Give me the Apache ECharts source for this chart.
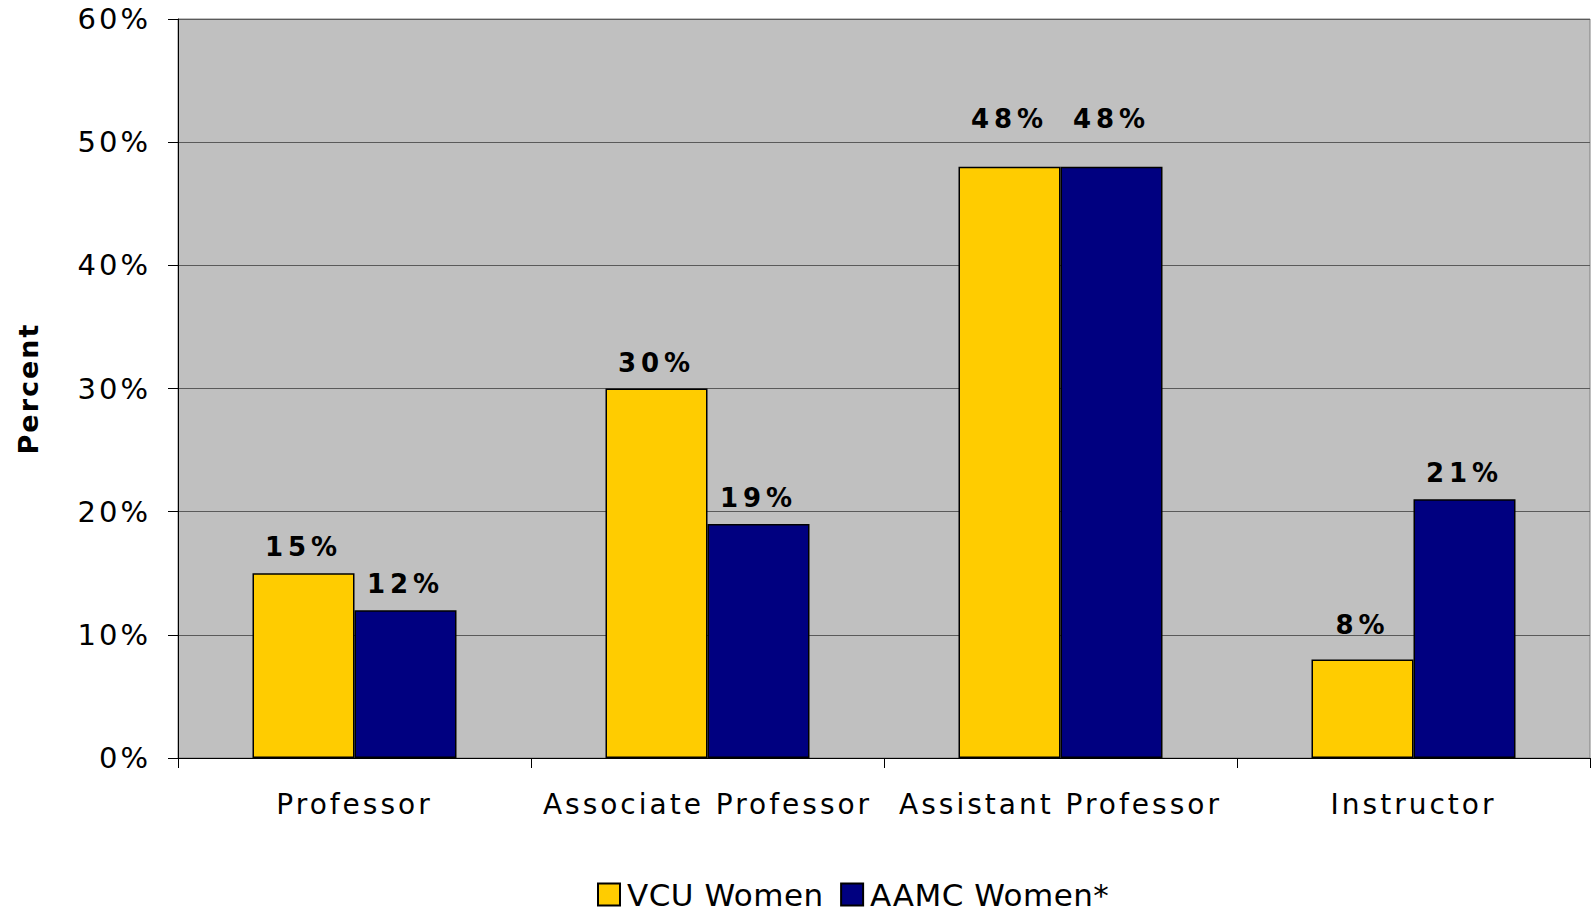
<!DOCTYPE html>
<html>
<head>
<meta charset="utf-8">
<script src="https://cdn.jsdelivr.net/npm/echarts@6/dist/echarts.min.js"></script>
<style>
  html, body { margin: 0; padding: 0; background: #fff; }
  #chart { width: 1591px; height: 916px; }
  svg text[style*="29px"] { letter-spacing: 3px; }
  svg text[style*="28px"] { letter-spacing: 3px; }
  svg text[style*="26px"] { letter-spacing: 5px; }
  svg text[style*="27px"] { letter-spacing: 2px; }
  svg text[style*="31px"] { letter-spacing: 0.5px; }
</style>
</head>
<body>
<div id="chart"></div>
<script>
var categories = ['Professor', 'Associate Professor', 'Assistant Professor', 'Instructor'];
var vcuWomen = [15, 30, 48, 8];
var aamcWomen = [12, 19, 48, 21];
var seriesNames = ['VCU Women', 'AAMC Women*'];
var yTicks = { min: 0, max: 60, interval: 10 };

// label lift above bars (style only)
var vcuLabelDistance = [13, 13, 35, 21];
var aamcLabelDistance = [13, 13, 35, 13];

function buildData(values, distances) {
  return values.map(function (v, i) {
    return { value: v, label: { distance: distances[i] } };
  });
}

var chart = echarts.init(document.getElementById('chart'), null, { renderer: 'svg' });
var labelStyle = {
  show: true,
  position: 'top',
  formatter: '{c}%',
  color: '#000',
  fontWeight: 'bold',
  fontSize: 26,
  fontFamily: 'DejaVu Sans'
};
chart.setOption({
  animation: false,
  backgroundColor: '#fff',
  textStyle: { fontFamily: 'DejaVu Sans' },
  grid: {
    left: 178, right: 1, top: 19, bottom: 158,
    outerBoundsMode: 'none',
    containLabel: false,
    show: true,
    backgroundColor: '#C0C0C0',
    borderColor: '#808080',
    borderWidth: 1
  },
  legend: {
    data: seriesNames,
    left: 597,
    top: 879,
    itemWidth: 22,
    itemHeight: 22,
    itemGap: 21,
    padding: 0,
    icon: 'rect',
    itemStyle: { borderColor: '#000', borderWidth: 2 },
    textStyle: { fontSize: 31, color: '#000', fontFamily: 'DejaVu Sans', lineHeight: 26, padding: [0, 0, 0, 2] }
  },
  xAxis: {
    type: 'category',
    data: categories,
    axisLine: { show: true, lineStyle: { color: '#000', width: 1 } },
    axisTick: { show: true, length: 10, alignWithLabel: false, interval: 0, lineStyle: { color: '#000' } },
    axisLabel: { fontSize: 28, color: '#000', margin: 32, interval: 0, fontFamily: 'DejaVu Sans' }
  },
  yAxis: {
    type: 'value',
    min: yTicks.min,
    max: yTicks.max,
    interval: yTicks.interval,
    name: 'Percent',
    nameLocation: 'middle',
    nameRotate: 90,
    nameGap: 136,
    nameTextStyle: { fontSize: 27, fontWeight: 'bold', color: '#000', fontFamily: 'DejaVu Sans' },
    axisLine: { show: true, lineStyle: { color: '#000', width: 1 } },
    axisTick: { show: true, length: 10, lineStyle: { color: '#000' } },
    axisLabel: { fontSize: 29, color: '#000', margin: 27, formatter: '{value}%', fontFamily: 'DejaVu Sans' },
    splitLine: { show: true, lineStyle: { color: '#5a5a5a', width: 1 } }
  },
  series: [
    {
      name: seriesNames[0],
      type: 'bar',
      data: buildData(vcuWomen, vcuLabelDistance),
      barWidth: 102,
      barGap: '0%',
      itemStyle: { color: '#FFCC00', borderColor: '#000', borderWidth: 1.5 },
      label: labelStyle
    },
    {
      name: seriesNames[1],
      type: 'bar',
      data: buildData(aamcWomen, aamcLabelDistance),
      barWidth: 102,
      barGap: '0%',
      itemStyle: { color: '#000080', borderColor: '#000', borderWidth: 1.5 },
      label: labelStyle
    }
  ]
});
</script>
</body>
</html>
